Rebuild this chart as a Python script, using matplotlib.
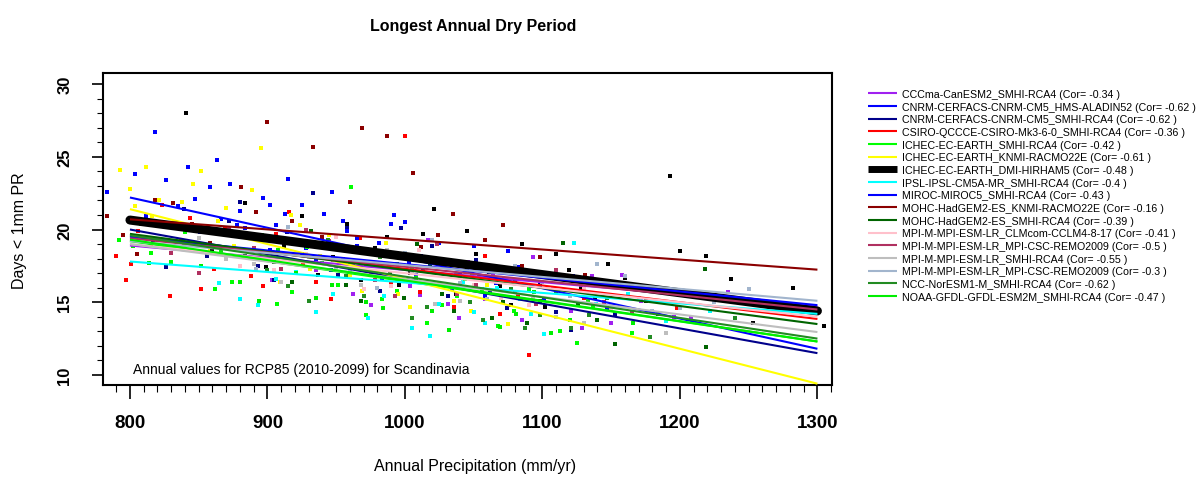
import matplotlib
matplotlib.use("Agg")
import matplotlib.pyplot as plt
from matplotlib.ticker import MultipleLocator

plt.rcParams['font.family'] = ['Liberation Sans', 'DejaVu Sans']

models = ["CCCma-CanESM2_SMHI-RCA4",
          "CNRM-CERFACS-CNRM-CM5_HMS-ALADIN52",
          "CNRM-CERFACS-CNRM-CM5_SMHI-RCA4",
          "CSIRO-QCCCE-CSIRO-Mk3-6-0_SMHI-RCA4",
          "ICHEC-EC-EARTH_SMHI-RCA4",
          "ICHEC-EC-EARTH_KNMI-RACMO22E",
          "ICHEC-EC-EARTH_DMI-HIRHAM5",
          "IPSL-IPSL-CM5A-MR_SMHI-RCA4",
          "MIROC-MIROC5_SMHI-RCA4",
          "MOHC-HadGEM2-ES_KNMI-RACMO22E",
          "MOHC-HadGEM2-ES_SMHI-RCA4",
          "MPI-M-MPI-ESM-LR_CLMcom-CCLM4-8-17",
          "MPI-M-MPI-ESM-LR_MPI-CSC-REMO2009",
          "MPI-M-MPI-ESM-LR_SMHI-RCA4",
          "MPI-M-MPI-ESM-LR_MPI-CSC-REMO2009",
          "NCC-NorESM1-M_SMHI-RCA4",
          "NOAA-GFDL-GFDL-ESM2M_SMHI-RCA4"]
correlations = ["-0.34", "-0.62", "-0.62", "-0.36", "-0.42", "-0.61", "-0.48", "-0.4",
                "-0.43", "-0.16", "-0.39", "-0.41", "-0.5", "-0.55", "-0.3", "-0.62", "-0.47"]
modelColors = ["#a020f0", "#0000ff", "#00008b", "#ff0000", "#00ff00", "#ffff00", "#000000",
               "#00ffff", "#0000ff", "#8b0000", "#006400", "#ffc0cb", "#b03060", "#bebebe",
               "#a2b5cd", "#228b22", "#00ee00"]

# fitted line, value at 800 and at 1300 mm/yr
fitX     = [800, 1300]
fitStart = [18.9, 22.2, 20.0, 19.6, 19.2, 21.4, 20.65, 17.8, 19.5, 20.7, 19.7, 19.0, 19.4, 19.0, 19.2, 19.6, 19.3]
fitEnd   = [14.7, 11.8, 11.5, 13.85, 12.3, 9.4, 14.4, 14.2, 14.8, 17.24, 13.5, 14.0, 14.5, 12.95, 15.1, 12.5, 12.3]

# annual values (precip, dry days) per model
precip = [
    [935, 962, 988, 1004, 1017, 1031, 1046, 1058, 1072, 1085, 1093, 1108, 1121, 1136, 1150, 1172, 1196, 1235,
     903, 948, 975, 1011, 1039, 1064, 1098, 1129, 1158, 1208],
    [783, 812, 818, 826, 835, 842, 851, 858, 866, 873, 880, 889, 897, 906, 915, 928, 941, 958, 972, 990, 1012, 1040,
     804, 847, 863, 884, 902, 921, 947, 965, 981, 1003],
    [817, 839, 856, 872, 893, 914, 933, 951, 966, 982, 997, 1013, 1031, 1052, 1074, 1098, 1121, 1153,
     826, 848, 880, 905, 925, 958, 990, 1020, 1062, 1110],
    [790, 797, 806, 815, 829, 844, 861, 878, 897, 916, 935, 955, 975, 1000, 1011, 1026, 1044, 1069, 1090, 1130, 1160, 1198,
     801, 823, 837, 852, 869, 888, 906, 926, 946, 967, 990, 1036, 1058, 1082],
    [792, 808, 830, 851, 874, 896, 918, 940, 961, 983, 1005, 1027, 1049, 1068, 1090, 1113, 1137, 1165,
     815, 840, 862, 885, 907, 929, 951, 972, 994, 1016, 1038, 1079, 1125],
    [793, 804, 812, 821, 833, 846, 858, 870, 882, 895, 909, 924, 938, 952, 969, 986, 1004, 1025, 1048, 1075,
     800, 816, 838, 852, 864, 876, 889, 902, 917, 931, 945, 960, 978, 995, 1014, 1036, 1060],
    [841, 870, 899, 925, 948, 968, 987, 1004, 1021, 1037, 1052, 1069, 1085, 1102, 1119, 1138, 1160, 1193, 1200, 1219, 1237, 1253, 1282, 1305,
     860, 884, 912, 937, 958, 978, 996, 1013, 1029, 1045, 1061, 1077, 1094, 1110, 1128, 1148, 1175],
    [865, 893, 921, 948, 973, 995, 1018, 1033, 1050, 1067, 1084, 1101, 1123, 1139, 1162, 1190, 1222,
     880, 906, 935, 960, 985, 1005, 1025, 1042, 1058, 1075, 1092, 1110],
    [878, 902, 925, 946, 965, 983, 1000, 1017, 1034, 1050, 1066, 1083, 1101, 1122, 1147,
     890, 913, 935, 955, 974, 992, 1008, 1025, 1042, 1058, 1075, 1092],
    [783, 805, 831, 858, 881, 900, 918, 933, 951, 969, 987, 1006, 1024, 1046, 1071, 1098, 1131,
     795, 818, 845, 870, 892, 940, 960, 1012, 1035, 1058, 1085],
    [905, 932, 957, 979, 999, 1018, 1036, 1054, 1071, 1089, 1115, 1126, 1153, 1184, 1218, 1219,
     918, 945, 968, 989, 1009, 1027, 1045, 1063, 1080, 1098, 1140],
    [860, 905, 950, 990, 1030, 1070, 1110, 1150,
     880, 928, 970, 1010, 1050, 1090, 1130],
    [830, 872, 910, 945, 978, 1008, 1038, 1066, 1095, 1128, 1165,
     850, 890, 928, 962, 993, 1023, 1052, 1080, 1110, 1145],
    [850, 890, 930, 968, 1005, 1040, 1075, 1110, 1150, 1190,
     870, 910, 950, 987, 1022, 1058, 1093, 1130, 1170],
    [870, 915, 960, 1000, 1040, 1080, 1120, 1160, 1200, 1250,
     892, 938, 980, 1020, 1060, 1100, 1140, 1180, 1225],
    [884, 915, 944, 970, 994, 1016, 1037, 1057, 1077, 1098, 1121, 1147, 1178, 1240,
     900, 930, 957, 982, 1005, 1027, 1047, 1067, 1087, 1110, 1134],
    [802, 826, 852, 880, 908, 935, 960, 984, 1008, 1032, 1056, 1081, 1106, 1133, 1166,
     814, 839, 866, 894, 921, 947, 972, 996, 1020, 1044, 1069, 1094, 1120],
]
dryDays = [
    [17.2, 15.6, 18.4, 16.1, 19.3, 14.9, 17.8, 15.2, 16.6, 13.8, 18.1, 15.9, 14.4, 16.8, 13.6, 15.1, 14.0, 15.7,
     16.5, 17.9, 14.8, 15.5, 13.9, 17.0, 16.4, 13.2, 16.9, 13.9],
    [22.6, 20.9, 26.7, 23.4, 21.6, 24.3, 19.8, 22.9, 20.7, 23.1, 21.3, 19.4, 22.2, 20.3, 23.5, 18.7, 21.1, 19.9, 17.6, 20.4, 18.2, 16.9,
     23.8, 22.1, 24.8, 20.1, 21.7, 19.2, 22.6, 18.9, 19.1, 17.8],
    [19.3, 21.4, 18.2, 20.6, 17.5, 19.8, 22.5, 16.9, 18.7, 15.8, 20.1, 17.2, 15.4, 17.9, 14.6, 16.2, 13.1, 14.2,
     17.4, 19.0, 21.9, 16.5, 18.3, 20.2, 16.8, 18.9, 15.8, 14.3],
    [18.2, 16.5, 19.9, 18.9, 15.4, 20.8, 17.3, 18.6, 16.1, 21.2, 16.4, 18.0, 17.1, 26.4, 15.7, 17.9, 16.6, 14.2, 11.4, 15.3, 16.2, 14.6,
     17.6, 21.7, 19.2, 15.9, 20.1, 16.8, 19.7, 17.6, 15.2, 19.4, 16.3, 14.7, 18.2, 15.5],
    [19.3, 20.4, 17.8, 18.9, 16.4, 19.6, 15.7, 17.7, 22.9, 15.2, 17.4, 14.8, 16.9, 13.4, 15.9, 13.0, 14.7, 12.9,
     18.4, 19.8, 15.9, 18.1, 14.9, 18.8, 16.2, 14.1, 15.8, 13.6, 15.4, 14.4, 12.2],
    [24.1, 21.6, 24.3, 22.0, 20.2, 23.1, 18.6, 21.5, 19.7, 25.6, 16.4, 20.3, 18.2, 17.6, 15.8, 19.1, 14.7, 16.3, 14.4, 13.5,
     22.8, 20.9, 21.9, 24.0, 20.6, 18.9, 22.7, 19.4, 21.0, 17.3, 19.6, 16.9, 18.3, 15.6, 17.9, 15.1, 16.2],
    [28.0, 19.6, 17.4, 20.9, 18.1, 16.5, 19.5, 17.0, 21.4, 15.6, 18.3, 16.1, 19.0, 14.7, 17.2, 15.3, 16.7, 23.7, 18.5, 18.2, 16.6, 13.6, 16.0, 13.4,
     18.6, 21.8, 18.9, 16.9, 20.4, 18.7, 16.2, 19.7, 17.9, 19.9, 17.1, 14.8, 16.9, 18.3, 15.9, 17.6, 15.1],
    [16.3, 14.8, 17.1, 15.6, 13.9, 16.7, 12.7, 17.9, 14.3, 16.0, 15.2, 12.8, 19.1, 14.9, 15.6, 13.7, 14.4,
     15.2, 16.6, 14.3, 17.3, 15.4, 13.2, 14.9, 16.4, 13.6, 17.0, 14.2, 15.7],
    [20.3, 18.6, 21.7, 17.2, 19.4, 16.6, 20.5, 17.8, 15.9, 18.9, 16.3, 17.4, 15.2, 16.8, 14.6,
     19.4, 21.1, 17.9, 20.6, 18.3, 21.0, 16.9, 19.1, 17.6, 15.4, 18.5, 16.1],
    [20.9, 18.3, 21.8, 19.1, 22.9, 27.4, 20.6, 25.7, 18.7, 27.0, 26.4, 23.9, 19.6, 17.7, 20.3, 18.1, 16.9,
     19.6, 22.0, 20.4, 18.2, 21.2, 19.5, 21.9, 18.8, 21.1, 19.3, 17.5],
    [17.8, 19.9, 16.2, 18.4, 15.3, 17.6, 14.4, 16.8, 15.0, 13.6, 19.1, 14.9, 12.1, 14.2, 17.3, 11.9,
     16.4, 18.9, 15.1, 17.0, 19.0, 15.6, 17.3, 13.9, 16.5, 15.1, 13.8],
    [18.8, 17.2, 19.5, 16.1, 17.8, 15.3, 16.6, 14.5,
     17.5, 18.3, 15.9, 18.6, 16.2, 14.8, 15.9],
    [18.4, 20.1, 17.3, 19.2, 16.5, 18.1, 15.6, 17.4, 14.9, 16.2, 14.3,
     17.0, 18.7, 20.0, 17.6, 15.4, 19.0, 16.2, 15.7, 17.2, 15.0],
    [19.4, 17.6, 18.1, 16.2, 17.0, 15.1, 16.3, 14.0, 14.8, 12.9,
     18.0, 16.4, 17.4, 18.6, 14.9, 16.8, 15.2, 13.6, 15.3],
    [18.7, 20.2, 17.1, 18.4, 16.3, 17.5, 15.4, 16.8, 14.6, 15.9,
     17.3, 18.9, 16.0, 19.3, 15.2, 16.4, 17.6, 14.4, 15.0],
    [18.2, 16.1, 19.3, 15.4, 17.6, 14.7, 16.9, 13.8, 15.9, 14.1, 13.2, 15.3, 12.6, 13.9,
     17.2, 15.1, 16.8, 18.1, 13.9, 16.1, 15.0, 17.4, 13.2, 15.8, 14.1],
    [18.9, 20.3, 17.5, 16.4, 18.6, 15.3, 17.8, 14.6, 16.7, 13.1, 15.9, 14.2, 12.9, 15.1, 13.6,
     17.7, 19.1, 18.5, 15.1, 17.0, 16.2, 15.0, 18.1, 14.4, 16.6, 13.3, 15.7, 13.8],
]
thickModel = "ICHEC-EC-EARTH_DMI-HIRHAM5"

fig = plt.figure(figsize=(12.02, 4.85), dpi=100)
ax = fig.add_axes([103/1202, 1-386/485, 729/1202, 312/485])

for idx, name in enumerate(models):
    ax.scatter(precip[idx], dryDays[idx], s=6, marker="s", color=modelColors[idx], linewidths=0, zorder=2)

for idx, name in enumerate(models):
    lw = 6.5 if name == thickModel else 1.5
    ax.plot(fitX, [fitStart[idx], fitEnd[idx]], color=modelColors[idx], linewidth=lw,
            solid_capstyle="round" if name == thickModel else "butt",
            label=f"{name} (Cor= {correlations[idx]} )", zorder=3)

ax.set_xlim(780.4, 1310.6)
ax.set_ylim(9.31, 30.76)
ax.xaxis.set_major_locator(MultipleLocator(100))
ax.xaxis.set_minor_locator(MultipleLocator(10))
ax.yaxis.set_major_locator(MultipleLocator(5))
ax.yaxis.set_minor_locator(MultipleLocator(1))
for spine in ax.spines.values():
    spine.set_linewidth(1.5)
ax.tick_params(axis="x", which="major", length=10, width=1.2, pad=11, labelsize=13.5)
ax.tick_params(axis="x", which="minor", length=5, width=0.8)
ax.tick_params(axis="y", which="major", length=8, width=1.2, pad=14, labelsize=12, labelrotation=90)
ax.tick_params(axis="y", which="minor", length=4.3, width=0.8)
for label in ax.get_xticklabels() + ax.get_yticklabels():
    label.set_fontweight("bold")
for label in ax.get_yticklabels():
    label.set_verticalalignment("center")

ax.text(0.041, 0.051, "Annual values for RCP85 (2010-2099) for Scandinavia", transform=ax.transAxes,
        fontsize=10, va="center", ha="left")

fig.text(473/1202, 1-27/485, "Longest Annual Dry Period", fontsize=11.5, fontweight="bold", ha="center", va="center")
fig.text(475/1202, 1-467/485, "Annual Precipitation (mm/yr)", fontsize=11.5, ha="center", va="center")
fig.text(20/1202, 1-231/485, "Days < 1mm PR", fontsize=11.5, rotation=90, ha="center", va="center")

leg = ax.legend(loc="upper left", bbox_to_anchor=(868/1202, 1-90/485), bbox_transform=fig.transFigure,
                frameon=False, fontsize=7.7, labelspacing=0.25, handlelength=2.7, handletextpad=0.45,
                borderpad=0, borderaxespad=0)
# thick legend key without the round caps running into the text
thickHandle = leg.legend_handles[models.index(thickModel)]
thickHandle.set_linewidth(5)
thickHandle.set_solid_capstyle("butt")

fig.savefig("out.png", dpi=100)
